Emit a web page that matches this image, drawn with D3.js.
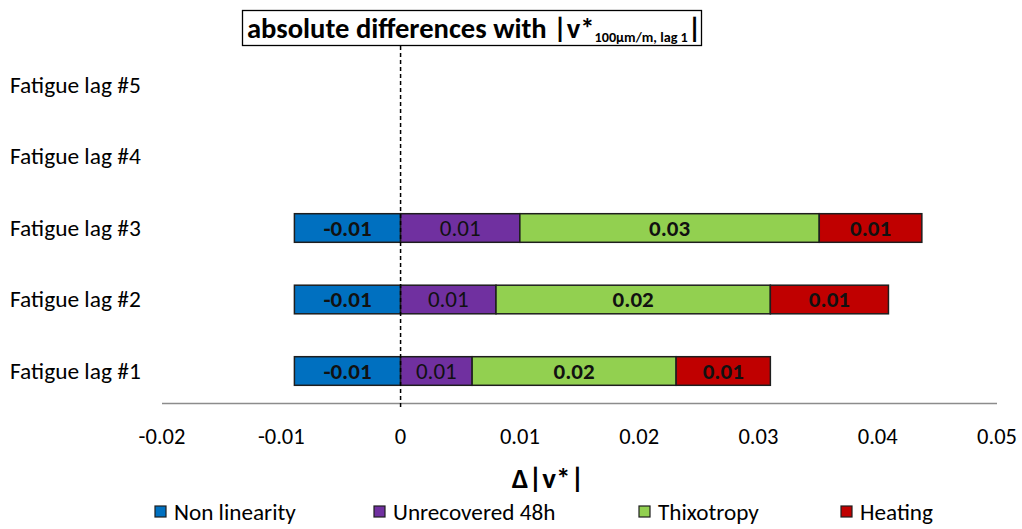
<!DOCTYPE html>
<html>
<head>
<meta charset="utf-8">
<script src="https://cdn.jsdelivr.net/npm/d3@7"></script>
<style>
  html, body { margin: 0; padding: 0; background: #fff; }
  svg { display: block; }
  text { font-family: Carlito, Calibri, "Open Sans", sans-serif; fill: #000; }
</style>
</head>
<body>
<svg id="chart" width="1022" height="529"></svg>
<script>
// ---- data ----
const categories = ["Fatigue lag #1", "Fatigue lag #2", "Fatigue lag #3", "Fatigue lag #4", "Fatigue lag #5"];
const seriesNames = ["Non linearity", "Unrecovered 48h", "Thixotropy", "Heating"];
const nonLinearity = [-0.0089, -0.0089, -0.0089, 0, 0];
const unrecovered48h = [0.0060, 0.0080, 0.0100, 0, 0];
const thixotropy = [0.0171, 0.0230, 0.0251, 0, 0];
const heating = [0.0079, 0.0099, 0.0086, 0, 0];
const xTicks = [-0.02, -0.01, 0, 0.01, 0.02, 0.03, 0.04, 0.05];
const colors = ["#0070C0", "#7030A0", "#92D050", "#C00000"];
const boldLabel = [true, false, true, true];

const svg = d3.select("#chart");

const rows = categories.map((c, i) => ({
  cat: c,
  "Non linearity": nonLinearity[i],
  "Unrecovered 48h": unrecovered48h[i],
  "Thixotropy": thixotropy[i],
  "Heating": heating[i]
}));

const x = d3.scaleLinear().domain([-0.02, 0.05]).range([162, 997]);
const y = d3.scaleBand().domain(categories.slice().reverse())
  .range([49.25, 406.75]).paddingInner(0.6).paddingOuter(0.3);

const stack = d3.stack().keys(seriesNames).offset(d3.stackOffsetDiverging);
const stacked = stack(rows);

// axis line
svg.append("line")
  .attr("x1", x(-0.02)).attr("x2", x(0.05))
  .attr("y1", 403.5).attr("y2", 403.5)
  .attr("stroke", "#8c8c8c").attr("stroke-width", 1.3);

// tick labels
const fmt = v => v === 0 ? "0" : d3.format(".2f")(v).replace("\u2212", "-");
svg.append("g").selectAll("text").data(xTicks).join("text")
  .attr("x", d => x(d)).attr("y", 444)
  .attr("text-anchor", "middle")
  .style("font-size", "22.5px")
  .text(fmt);

// bars
const groups = svg.append("g").selectAll("g").data(stacked).join("g")
  .attr("fill", (d, i) => colors[i]);

groups.each(function(series, si) {
  const g = d3.select(this);
  const segs = series.filter(d => d[1] - d[0] !== 0);
  g.selectAll("rect").data(segs).join("rect")
    .attr("x", d => x(Math.min(d[0], d[1])))
    .attr("width", d => Math.abs(x(d[1]) - x(d[0])))
    .attr("y", d => y(d.data.cat))
    .attr("height", y.bandwidth())
    .attr("stroke", "#1e1e1e").attr("stroke-width", 1.5);
  g.selectAll("text").data(segs).join("text")
    .attr("x", d => (x(d[0]) + x(d[1])) / 2)
    .attr("y", d => y(d.data.cat) + y.bandwidth() / 2 + 7.5)
    .attr("text-anchor", "middle")
    .style("font-size", "23px")
    .style("font-weight", boldLabel[si] ? "bold" : "normal")
    .style("fill", "#111")
    .text(d => fmt(+(d.data[series.key]).toFixed(2)));
});

// dashed zero line
svg.append("line")
  .attr("x1", x(0)).attr("x2", x(0))
  .attr("y1", 46).attr("y2", 407)
  .attr("stroke", "#000").attr("stroke-width", 1.5)
  .attr("stroke-dasharray", "4,3");

// category labels
svg.append("g").selectAll("text").data(categories).join("text")
  .attr("x", 10).attr("y", d => y(d) + y.bandwidth() / 2 + 7.5)
  .style("font-size", "23.4px")
  .text(d => d);

// title box
svg.append("rect")
  .attr("x", 242.5).attr("y", 10.5).attr("width", 459).attr("height", 35)
  .attr("fill", "#fff").attr("stroke", "#000").attr("stroke-width", 1.3);
const title = svg.append("text").attr("x", 247).attr("y", 38)
  .style("font-size", "28.6px").style("font-weight", "bold");
title.append("tspan").text("absolute differences with |v*");
title.append("tspan").attr("dy", 4).style("font-size", "14.2px").text("100µm/m, lag 1");
title.append("tspan").attr("dy", -4).text("|");

// axis title
svg.append("text").attr("x", 548).attr("y", 488)
  .attr("text-anchor", "middle")
  .style("font-size", "29px").style("font-weight", "bold")
  .text("Δ|v*|");

// legend
const legendX = [155, 374, 639, 841];
const lg = svg.append("g").selectAll("g").data(seriesNames).join("g")
  .attr("transform", (d, i) => `translate(${legendX[i]},512)`);
lg.append("rect").attr("x", 0).attr("y", -6).attr("width", 11).attr("height", 11)
  .attr("fill", (d, i) => colors[i]).attr("stroke", "#1e1e1e").attr("stroke-width", 1.2);
lg.append("text").attr("x", 19).attr("y", 8)
  .style("font-size", "23.2px")
  .text(d => d);
</script>
</body>
</html>
